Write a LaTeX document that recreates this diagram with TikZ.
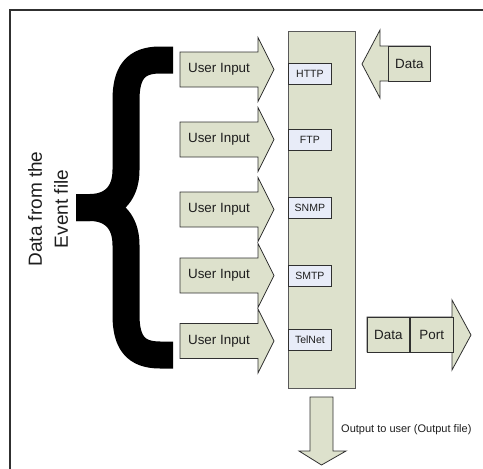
\documentclass[tikz,border=0pt]{standalone}
\usepackage{fontspec}
\setmainfont{Liberation Sans}
\definecolor{boxgreen}{HTML}{DDE1CC}
\definecolor{protofill}{HTML}{E8ECF8}
\definecolor{edge}{HTML}{303030}
\definecolor{txt}{HTML}{1E1E1E}
\begin{document}
\begin{tikzpicture}[x=1pt,y=-1pt,
  shp/.style={draw=edge, fill=boxgreen, line width=0.8pt, line join=miter},
  proto/.style={draw=edge, fill=protofill, line width=0.8pt, minimum width=43pt, minimum height=21pt, inner sep=0pt, anchor=west, text=txt, font=\fontsize{10.5}{12}\selectfont},
  lbl/.style={inner sep=0pt, text=txt, font=\fontsize{13.4}{16}\selectfont},
  cell/.style={draw=edge, fill=boxgreen, line width=0.8pt, minimum height=35pt, inner sep=0pt, anchor=west, text=txt, font=\fontsize{13.4}{16}\selectfont}]
\useasboundingbox (0,0) rectangle (483,469);
% frame
\draw[edge, line width=1.3pt] (10,480) -- (10,10) -- (495,10);
% central column
\node[shp, draw=edge!80, minimum width=67pt, minimum height=357pt, anchor=north west, inner sep=0pt] (col) at (288,31) {};
% protocol boxes
\foreach \y/\p in {74/HTTP, 140/FTP, 208/SNMP, 276/SMTP, 340/TelNet}
  \node[proto] (p\p) at (288,\y) {\p};
% user input arrows
\foreach \y [count=\i] in {69.5,139.5,209.5,275.5,341}{
  \draw[shp] (180,\y-17.5) -- (258,\y-17.5) -- (258,\y-32) -- (274,\y) -- (258,\y+32) -- (258,\y+17.5) -- (180,\y+17.5) -- cycle;
  \node[lbl] (ui\i) at (219,\y) {User Input};
}
% incoming data arrow
\draw[shp] (430,46) -- (380,46) -- (380,30) -- (362,64) -- (380,98) -- (380,81) -- (430,81) -- cycle;
\node[cell, minimum width=42pt] (din) at (388,63.5) {Data};
% data/port arrow
\draw[shp] (367,317) -- (452,317) -- (452,300) -- (471,335) -- (452,370) -- (452,352) -- (367,352) -- cycle;
\node[cell, minimum width=42pt] (dout) at (367,334.5) {Data};
\node[cell, minimum width=43pt] (port) at (dout.east) {Port};
% output arrow
\draw[shp] (310,397) -- (333,397) -- (333,451) -- (346,451) -- (321.5,465) -- (299,451) -- (310,451) -- cycle;
\node[lbl, anchor=west, font=\fontsize{11}{13}\selectfont] (out) at (341,430) {Output to user (Output file)};
% brace
\draw[black, line width=27pt, line cap=butt, line join=round]
  (173,60) -- (160,60) .. controls (136,60) and (126,72) .. (126,100) -- (126,170)
  .. controls (126,196) and (110,207.5) .. (90,207.5) -- (76,207.5);
\draw[black, line width=27pt, line cap=butt, line join=round]
  (76,207.5) -- (90,207.5) .. controls (110,207.5) and (126,219) .. (126,245) -- (126,315)
  .. controls (126,343) and (136,355) .. (160,355) -- (173,355);
% side label
\node[rotate=90, align=center, inner sep=0pt, text=txt, font=\fontsize{19}{26}\selectfont] (src) at (48,209) {Data from the\\Event file};
\end{tikzpicture}
\end{document}
